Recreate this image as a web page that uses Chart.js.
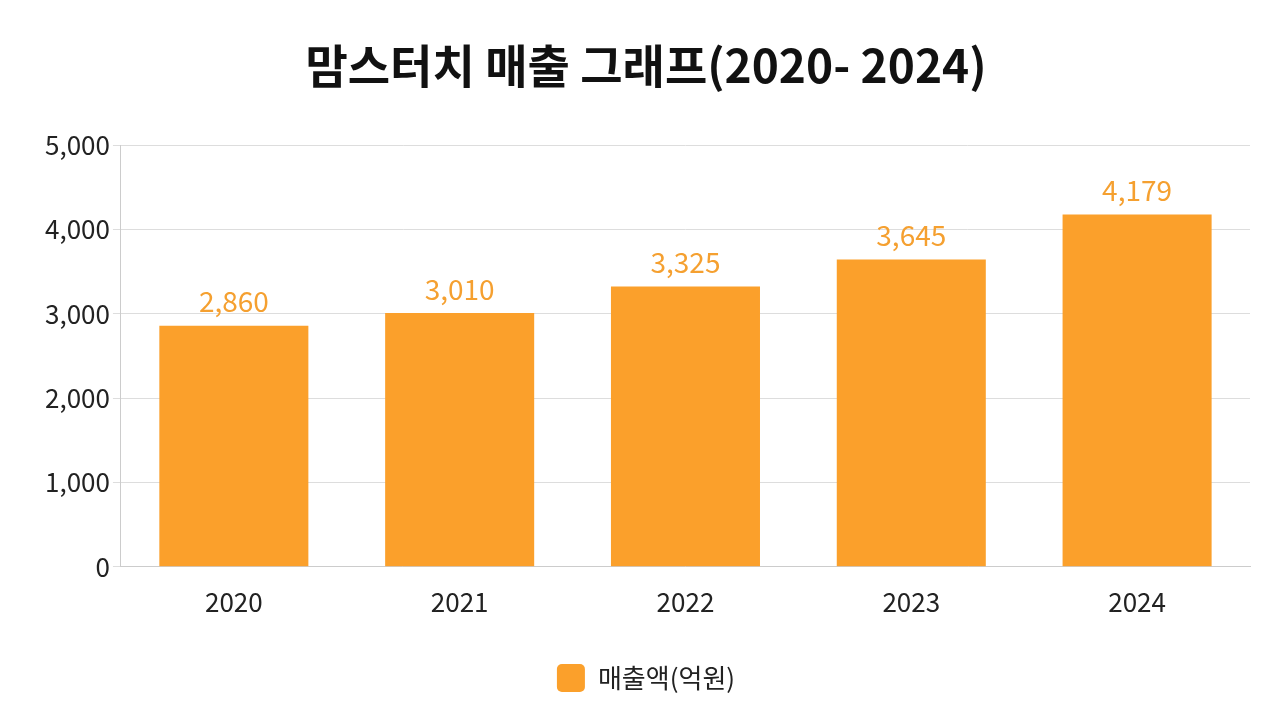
<!DOCTYPE html>
<html><head><meta charset="utf-8">
<script src="https://cdn.jsdelivr.net/npm/chart.js@4"></script>
<style>html,body{margin:0;background:#fff}#wrap{width:1280px;height:720px}</style>
</head><body><div id="wrap"><canvas id="c"></canvas></div>
<script>
const YEARS = ['2020','2021','2022','2023','2024'];
const SALES = [2860, 3010, 3325, 3645, 4179];
const ORANGE = '#FBA02B';
const F = "'Noto Sans CJK KR','Noto Sans',sans-serif";

const valueLabels = {
  id:'valueLabels',
  afterDatasetsDraw(chart){
    const {ctx} = chart;
    chart.getDatasetMeta(0).data.forEach((bar,i)=>{
      ctx.save();
      ctx.font = '28px '+F;
      ctx.fillStyle = '#F5A030';
      ctx.textAlign = 'center';
      ctx.textBaseline = 'bottom';
      ctx.fillText(SALES[i].toLocaleString('en-US'), bar.x, bar.y - 10);
      ctx.restore();
    });
  }
};

new Chart(document.getElementById('c'),{
  type:'bar',
  data:{labels:YEARS,datasets:[{label:'매출액(억원)',data:SALES,backgroundColor:ORANGE,
    categoryPercentage:1,barPercentage:0.66}]},
  plugins:[valueLabels],
  options:{
    responsive:true,maintainAspectRatio:false,animation:false,
    layout:{padding:{left:42,right:30,top:18,bottom:18}},
    plugins:{
      title:{display:true,text:'맘스터치 매출 그래프(2020- 2024)',color:'#111',
        font:{family:F,size:46,weight:'bold'},padding:{top:20,bottom:52}},
      legend:{position:'bottom',labels:{color:'#222',font:{family:F,size:26},
        boxWidth:28,boxHeight:28,useBorderRadius:true,borderRadius:5,padding:34}},
      tooltip:{enabled:false}
    },
    scales:{
      x:{grid:{display:false},border:{color:'#ccc'},
        ticks:{color:'#222',font:{family:F,size:26},padding:12}},
      y:{min:0,max:5000,ticks:{stepSize:1000,color:'#222',font:{family:F,size:26},
        callback:v=>v.toLocaleString('en-US')},grid:{color:'#ddd'},border:{color:'#ccc'}}
    }
  }
});
</script></body></html>
